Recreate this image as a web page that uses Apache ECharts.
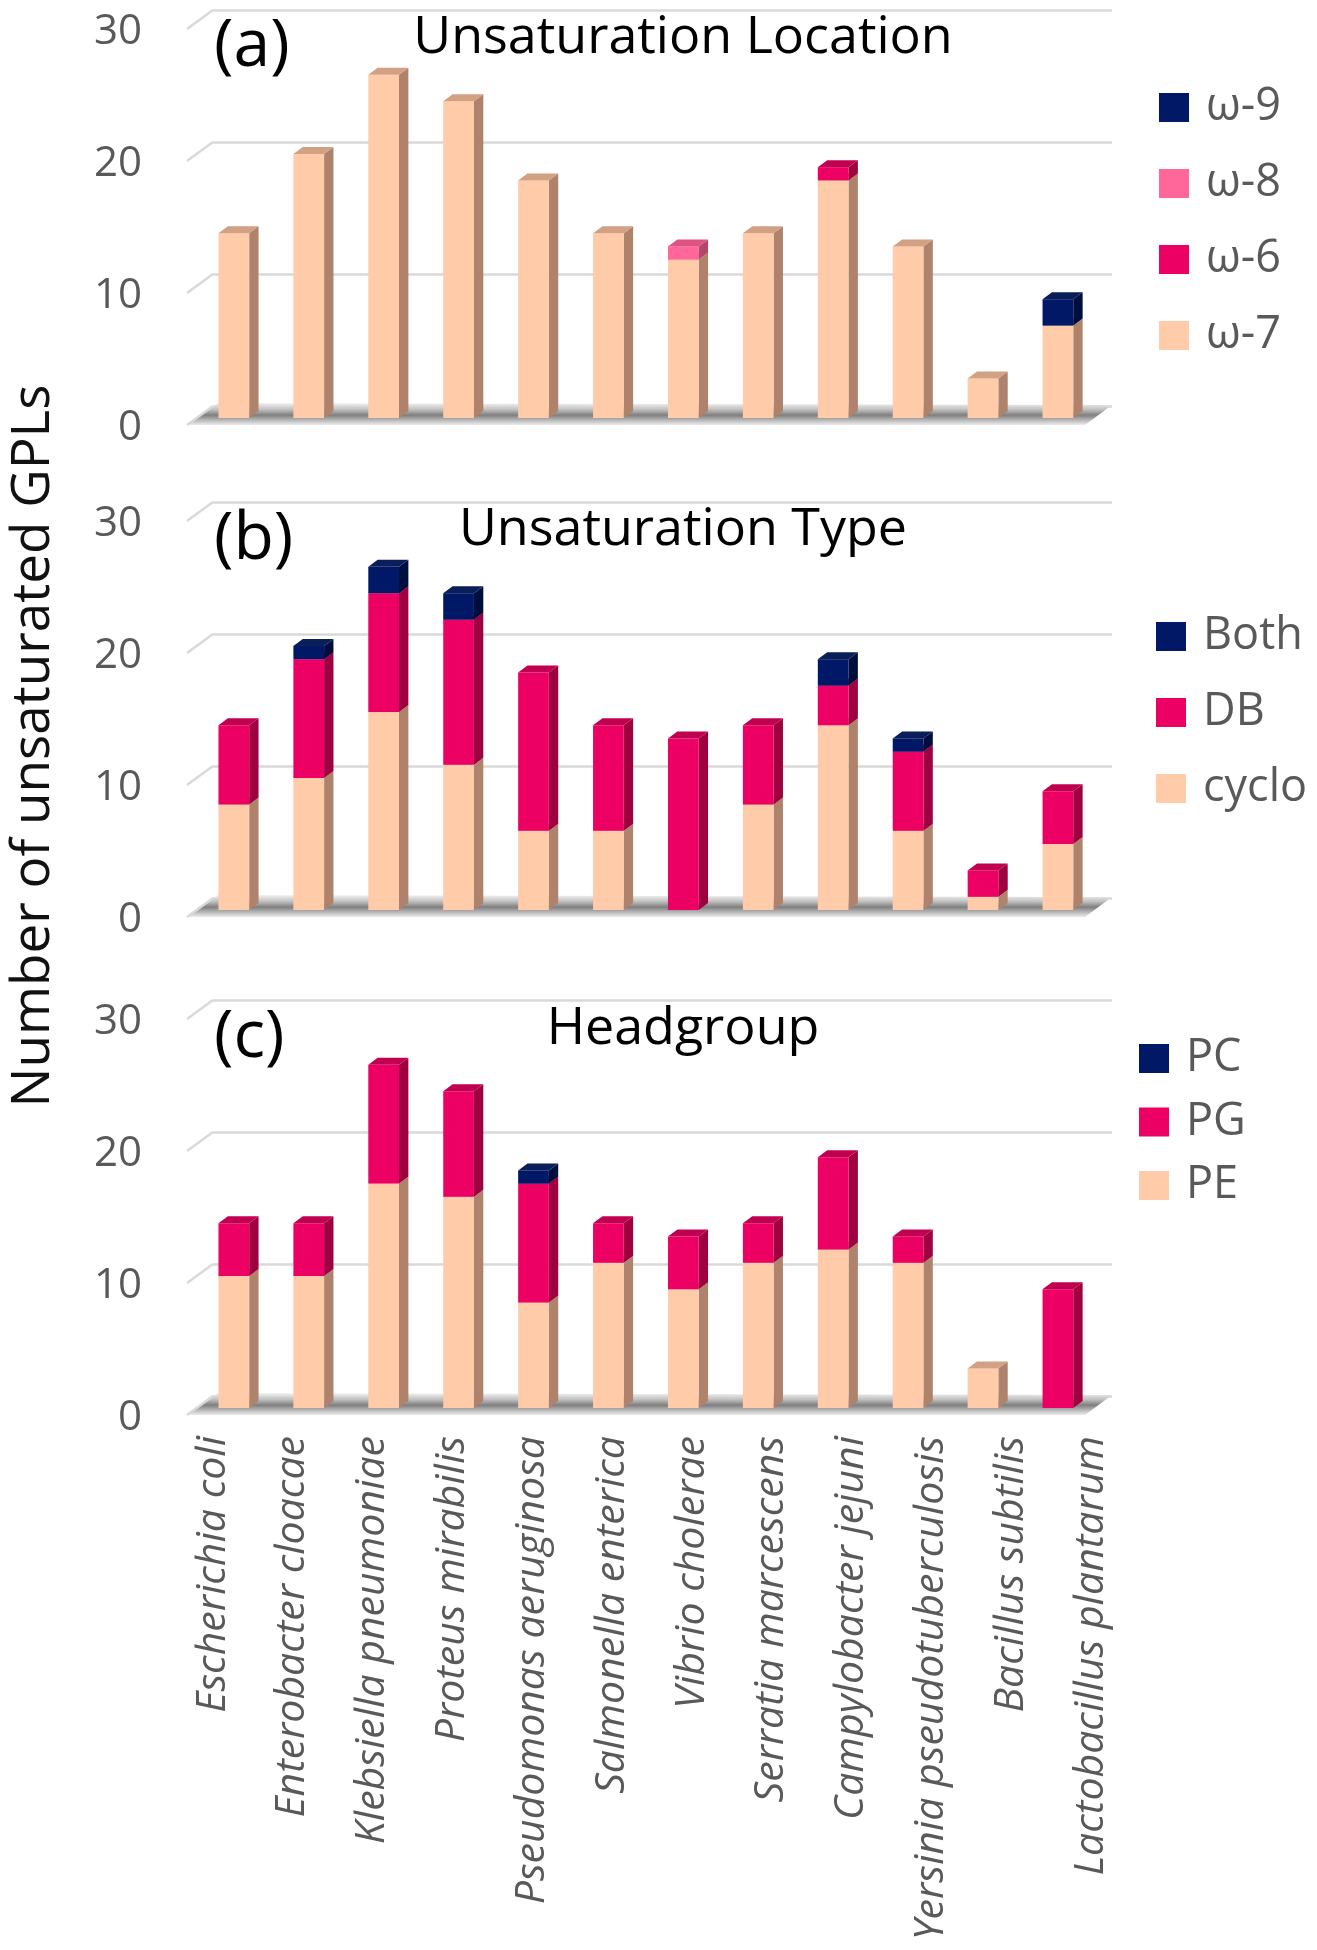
<!DOCTYPE html>
<html>
<head>
<meta charset="utf-8">
<script src="https://cdn.jsdelivr.net/npm/echarts@6/dist/echarts.min.js"></script>
<style>
html,body{margin:0;padding:0;background:#fff;}
#chart{width:1317px;height:1950px;}
</style>
</head>
<body>
<div id="chart"></div>
<script>
// ---------------- DATA ----------------
const categories = ['Escherichia coli', 'Enterobacter cloacae', 'Klebsiella pneumoniae', 'Proteus mirabilis',
  'Pseudomonas aeruginosa', 'Salmonella enterica', 'Vibrio cholerae', 'Serratia marcescens',
  'Campylobacter jejuni', 'Yersinia pseudotuberculosis', 'Bacillus subtilis', 'Lactobacillus plantarum'];
const yTicks = [0, 10, 20, 30];

// (a) Unsaturation Location
const omega7 = [14, 20, 26, 24, 18, 14, 12, 14, 18, 13, 3, 7];
const omega6 = [0, 0, 0, 0, 0, 0, 0, 0, 1, 0, 0, 0];
const omega8 = [0, 0, 0, 0, 0, 0, 1, 0, 0, 0, 0, 0];
const omega9 = [0, 0, 0, 0, 0, 0, 0, 0, 0, 0, 0, 2];

// (b) Unsaturation Type
const cyclo = [8, 10, 15, 11, 6, 6, 0, 8, 14, 6, 1, 5];
const db    = [6, 9, 9, 11, 12, 8, 13, 6, 3, 6, 2, 4];
const both  = [0, 1, 2, 2, 0, 0, 0, 0, 2, 1, 0, 0];

// (c) Headgroup
const pe = [10, 10, 17, 16, 8, 11, 9, 11, 12, 11, 3, 0];
const pg = [4, 4, 9, 8, 9, 3, 4, 3, 7, 2, 0, 9];
const pc = [0, 0, 0, 0, 1, 0, 0, 0, 0, 0, 0, 0];

const panelTitles = ['Unsaturation Location', 'Unsaturation Type', 'Headgroup'];
const panelLetters = ['(a)', '(b)', '(c)'];
const yAxisTitle = 'Number of unsaturated GPLs';

// ---------------- STYLES ----------------
const PEACH = {front: '#FFCBA9', side: '#AE826B', top: '#D2A184'};
const CRIMSON = {front: '#EC0064', side: '#9E0040', top: '#C20052'};
const ROSE = {front: '#FF6699', side: '#B5476C', top: '#E0527F'};
const NAVY = {front: '#001865', side: '#000E3E', top: '#0A1E5A'};

const FONT = "'Open Sans', 'Noto Sans', sans-serif";
const GRAY = '#595959';
const GRIDLINE = '#D9D9D9';

const wallTops = [10, 502, 1000];
const WALL_LEFT = 213, WALL_W = 899, WALL_H = 396;

const panels = [
  {series: [['ω-7', omega7, PEACH], ['ω-6', omega6, CRIMSON], ['ω-8', omega8, ROSE], ['ω-9', omega9, NAVY]],
   legendLeft: 1159, legendTop: 85, legendGap: 31},
  {series: [['cyclo', cyclo, PEACH], ['DB', db, CRIMSON], ['Both', both, NAVY]],
   legendLeft: 1156, legendTop: 614, legendGap: 31},
  {series: [['PE', pe, PEACH], ['PG', pg, CRIMSON], ['PC', pc, NAVY]],
   legendLeft: 1139, legendTop: 1036, legendGap: 18.5}
];

function barRender(colors) {
  return function (params, api) {
    const i = api.value(0), b = api.value(1), t = api.value(2);
    if (!(t > b)) return null;
    const pb = api.coord([i, b]), pt = api.coord([i, t]);
    const band = api.size([1, 0])[0];
    const w = band * 0.41;
    const cx = pb[0] - band * 0.222;
    const DY = 12, SX = band * 0.125, SY = 7;
    const x0 = cx - w / 2, x1 = cx + w / 2;
    const yb = pb[1] + DY, yt = pt[1] + DY;
    return {
      type: 'group',
      children: [
        {type: 'polygon', shape: {points: [[x1, yt], [x1 + SX, yt - SY], [x1 + SX, yb - SY], [x1, yb]]}, style: {fill: colors.side}},
        {type: 'rect', shape: {x: x0, y: yt, width: w, height: yb - yt}, style: {fill: colors.front}},
        {type: 'polygon', shape: {points: [[x0, yt], [x0 + SX, yt - SY], [x1 + SX, yt - SY], [x1, yt]]}, style: {fill: colors.top}}
      ]
    };
  };
}

function floorRender(params, api) {
  const cs = params.coordSys;
  const y0 = cs.y + cs.height;
  const x = cs.x, w = cs.width;
  return {
    type: 'polygon',
    shape: {points: [[x + 5, y0 - 3], [x + w, y0 - 1], [x + w - 27, y0 + 19], [x - 26, y0 + 19]]},
    style: {
      fill: {type: 'linear', x: 0, y: 0, x2: 0, y2: 1, colorStops: [
        {offset: 0, color: '#f2f2f2'}, {offset: 0.3, color: '#bfbfbf'},
        {offset: 0.55, color: '#7f7f7f'}, {offset: 0.8, color: '#bdbdbd'}, {offset: 1, color: '#ececec'}]}
    },
    silent: true
  };
}

function diagRender(params, api) {
  const cs = params.coordSys;
  const y = api.coord([0, api.value(1)])[1];
  return {
    type: 'line',
    shape: {x1: cs.x, y1: y, x2: cs.x - 26, y2: y + 19},
    style: {stroke: GRIDLINE, lineWidth: 2.5}
  };
}

const grid = [], xAxis = [], yAxis = [], series = [], legend = [], title = [];

panels.forEach((p, k) => {
  const wallIdx = grid.length;
  grid.push({left: WALL_LEFT, top: wallTops[k], width: WALL_W, height: WALL_H});
  xAxis.push({gridIndex: wallIdx, type: 'category', data: categories, show: false, boundaryGap: true});
  yAxis.push({gridIndex: wallIdx, type: 'value', min: 0, max: 30, interval: 10,
    axisLabel: {show: false}, axisLine: {show: false}, axisTick: {show: false},
    splitLine: {show: true, lineStyle: {color: GRIDLINE, width: 2.5}}});

  const labIdx = grid.length;
  grid.push({left: WALL_LEFT, top: wallTops[k] + 22, width: WALL_W, height: WALL_H});
  xAxis.push({gridIndex: labIdx, type: 'category', data: categories, show: false});
  yAxis.push({gridIndex: labIdx, type: 'value', min: 0, max: 30, interval: 10,
    axisLabel: {show: true, fontSize: 42, color: GRAY, fontFamily: FONT, margin: 71},
    axisLine: {show: false}, axisTick: {show: false}, splitLine: {show: false}});

  series.push({type: 'custom', name: 'floor' + k, xAxisIndex: wallIdx, yAxisIndex: wallIdx,
    data: [[0, 0]], renderItem: floorRender, silent: true, z: 1, encode: {x: 0, y: 1}});
  series.push({type: 'custom', name: 'diag' + k, xAxisIndex: wallIdx, yAxisIndex: wallIdx,
    data: yTicks.map(v => [0, v]), renderItem: diagRender, silent: true, z: 1, encode: {x: 0, y: 1}});

  const cum = categories.map(() => 0);
  p.series.forEach(([name, vals, colors], si) => {
    const data = vals.map((v, i) => {
      const b = cum[i];
      cum[i] += v;
      return [i, b, cum[i]];
    });
    series.push({type: 'custom', name: name, xAxisIndex: wallIdx, yAxisIndex: wallIdx,
      data: data, renderItem: barRender(colors), itemStyle: {color: colors.front},
      encode: {x: 0, y: [1, 2]}, z: 2 + si, clip: false});
  });

  legend.push({
    orient: 'vertical', left: p.legendLeft, top: p.legendTop, padding: 0,
    itemWidth: 30, itemHeight: 29, itemGap: p.legendGap, icon: 'rect',
    data: p.series.map(s => s[0]).reverse(),
    textStyle: {fontSize: 45, color: GRAY, fontFamily: FONT, lineHeight: 42, padding: [0, 0, 0, 12]},
    selectedMode: false
  });
});

// category labels
const catIdx = grid.length;
grid.push({left: 173, top: 1380, width: 958, height: 30});
xAxis.push({gridIndex: catIdx, type: 'category', data: categories, boundaryGap: true,
  axisLine: {show: false}, axisTick: {show: false},
  axisLabel: {show: true, interval: 0, rotate: 90, fontSize: 41, fontStyle: 'italic', color: GRAY,
    fontFamily: FONT, margin: 26}});
yAxis.push({gridIndex: catIdx, type: 'value', show: false, min: 0, max: 1});

const letterCenters = [47, 540, 1038];
const titleCenters = [38, 530, 1029];
panelTitles.forEach((t, k) => {
  title.push({text: panelLetters[k], left: 214, top: letterCenters[k] - 33, padding: 0,
    textStyle: {fontSize: 66, lineHeight: 66, color: '#000', fontWeight: 'normal', fontFamily: FONT}});
  title.push({text: t, left: 683, textAlign: 'center', top: titleCenters[k] - 26, padding: 0,
    textStyle: {fontSize: 52, lineHeight: 52, color: '#000', fontWeight: 'normal', fontFamily: FONT}});
});

const chart = echarts.init(document.getElementById('chart'), null, {renderer: 'canvas'});
chart.setOption({
  animation: false,
  backgroundColor: '#fff',
  title: title,
  legend: legend,
  grid: grid,
  xAxis: xAxis,
  yAxis: yAxis,
  series: series,
  graphic: [{
    type: 'text', x: 34, y: 746, rotation: Math.PI / 2,
    style: {text: yAxisTitle, fontSize: 53, fill: '#111', fontFamily: FONT,
      textAlign: 'center', textVerticalAlign: 'middle'}
  }]
});
</script>
</body>
</html>
